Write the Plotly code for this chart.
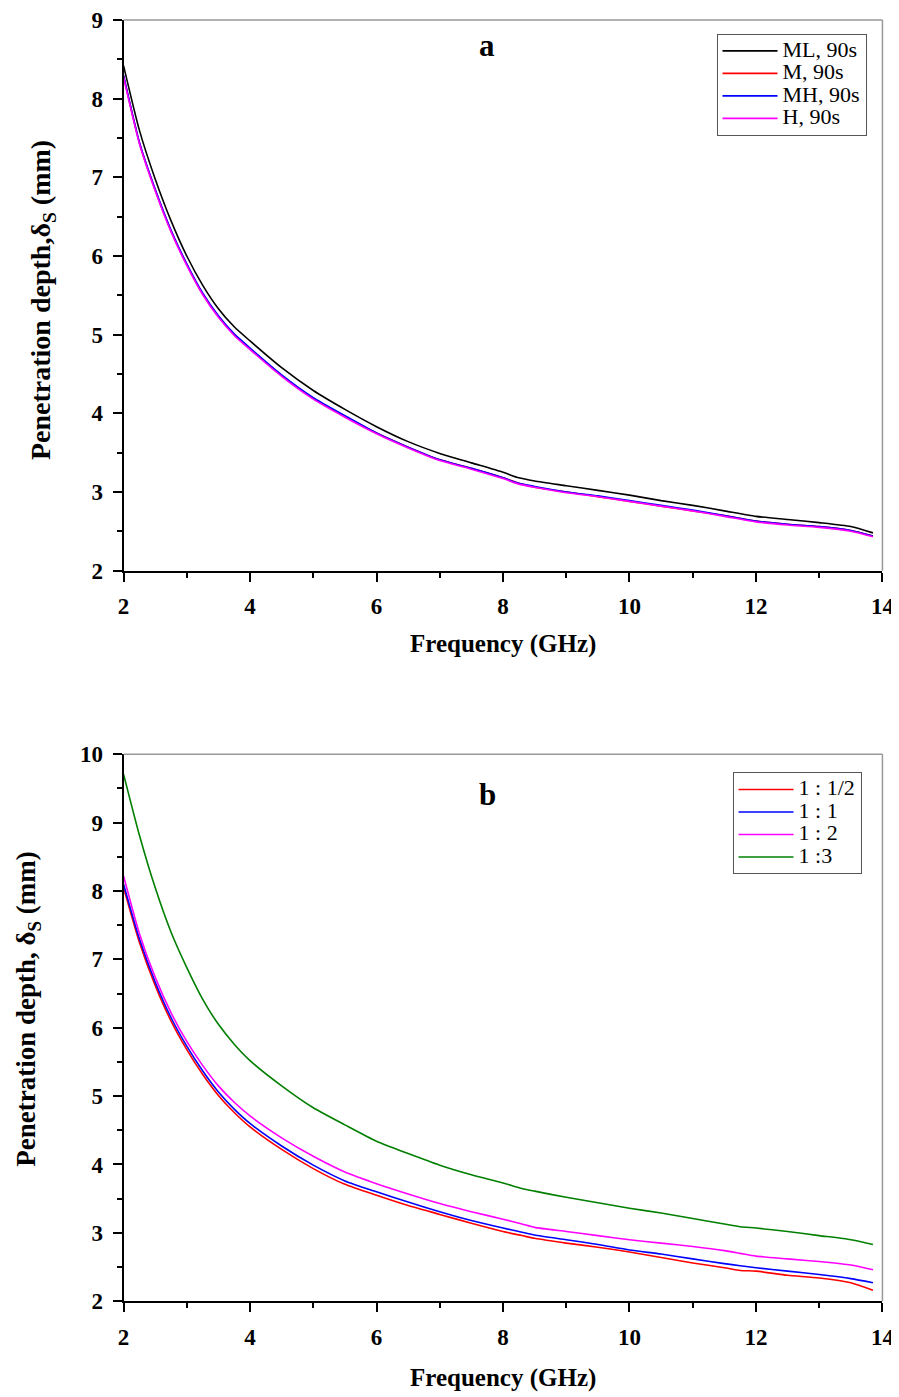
import plotly.graph_objects as go

# ---------------- data (panel a) ----------------
freq_a = [2.0, 2.25, 2.5, 2.75, 3.0, 3.25, 3.5, 3.75, 4.0, 4.5, 5.0, 5.5, 6.0, 6.5, 7.0,
          7.5, 8.0, 8.25, 8.5, 9.0, 9.5, 10.0, 10.5, 11.0, 11.5, 12.0, 12.5, 13.0, 13.5, 13.85]
ml_90 = [8.42, 7.60, 6.98, 6.45, 6.00, 5.63, 5.33, 5.10, 4.92, 4.58, 4.29, 4.05, 3.83, 3.64, 3.49,
         3.37, 3.25, 3.18, 3.14, 3.08, 3.02, 2.96, 2.89, 2.83, 2.76, 2.69, 2.65, 2.61, 2.56, 2.48]
m_90 = [8.29, 7.44, 6.84, 6.32, 5.89, 5.52, 5.23, 5.00, 4.82, 4.48, 4.19, 3.96, 3.75, 3.57, 3.41,
        3.30, 3.18, 3.11, 3.06, 3.00, 2.94, 2.88, 2.82, 2.76, 2.70, 2.63, 2.59, 2.56, 2.51, 2.44]
mh_90 = [8.30, 7.45, 6.85, 6.33, 5.90, 5.53, 5.24, 5.01, 4.83, 4.49, 4.20, 3.97, 3.75, 3.57, 3.41,
         3.30, 3.18, 3.11, 3.07, 3.00, 2.95, 2.89, 2.83, 2.77, 2.70, 2.63, 2.59, 2.56, 2.51, 2.44]
h_90 = [8.27, 7.43, 6.83, 6.31, 5.88, 5.51, 5.22, 4.99, 4.81, 4.47, 4.18, 3.95, 3.74, 3.56, 3.40,
        3.29, 3.17, 3.10, 3.06, 2.99, 2.94, 2.88, 2.82, 2.76, 2.69, 2.62, 2.58, 2.55, 2.50, 2.43]
names_a = ["ML, 90s", "M, 90s", "MH, 90s", "H, 90s"]
colors_a = ["#000000", "#FF0000", "#0000FF", "#FF00FF"]

# ---------------- data (panel b) ----------------
freq_b = [2.0, 2.25, 2.5, 2.75, 3.0, 3.25, 3.5, 3.75, 4.0, 4.5, 5.0, 5.5, 6.0, 6.5, 7.0, 7.5,
          8.0, 8.3, 8.5, 9.0, 9.5, 10.0, 10.5, 11.0, 11.5, 11.75, 12.0, 12.5, 13.0, 13.5, 13.85]
r_1_half = [8.05, 7.25, 6.62, 6.10, 5.68, 5.32, 5.01, 4.76, 4.55, 4.22, 3.94, 3.71, 3.55, 3.40, 3.27, 3.14,
            3.02, 2.96, 2.92, 2.85, 2.79, 2.72, 2.64, 2.56, 2.49, 2.45, 2.44, 2.38, 2.34, 2.27, 2.16]
r_1_1 = [8.10, 7.30, 6.67, 6.15, 5.73, 5.37, 5.06, 4.81, 4.60, 4.27, 3.99, 3.76, 3.60, 3.45, 3.31, 3.18,
         3.07, 3.01, 2.97, 2.90, 2.83, 2.75, 2.69, 2.62, 2.55, 2.52, 2.49, 2.44, 2.39, 2.33, 2.27]
r_1_2 = [8.22, 7.38, 6.74, 6.22, 5.80, 5.45, 5.15, 4.91, 4.71, 4.39, 4.12, 3.89, 3.72, 3.57, 3.43, 3.31,
         3.20, 3.13, 3.08, 3.02, 2.96, 2.90, 2.85, 2.80, 2.74, 2.70, 2.66, 2.62, 2.58, 2.53, 2.46]
r_1_3 = [9.71, 8.82, 8.05, 7.40, 6.88, 6.42, 6.05, 5.76, 5.52, 5.15, 4.83, 4.58, 4.34, 4.16, 3.99, 3.85,
         3.73, 3.65, 3.61, 3.52, 3.44, 3.36, 3.29, 3.21, 3.13, 3.09, 3.07, 3.02, 2.96, 2.90, 2.83]
names_b = ["1 : 1/2", "1 : 1", "1 : 2", "1 :3"]
colors_b = ["#FF0000", "#0000FF", "#FF00FF", "#007F00"]

x_ticks = [2, 4, 6, 8, 10, 12, 14]

FONT = "Liberation Serif, Times New Roman, serif"
W, H = 899, 1397
# observed page placement of the figure in the screenshot: shot = S * fig_px + offset
S = 0.984
OX, OY = 12.0, 19.3


def legend_label(txt):
    # larger glyphs inside a compact legend row
    return '<span style="font-size:22px">' + txt + "</span>"


fig = go.Figure()
for name, col, ys in zip(names_a, colors_a, [ml_90, m_90, mh_90, h_90]):
    fig.add_trace(go.Scatter(x=freq_a, y=ys, mode="lines", name=legend_label(name),
                             line=dict(color=col, width=1.6, shape="spline", smoothing=0.6),
                             xaxis="x", yaxis="y", legend="legend"))
for name, col, ys in zip(names_b, colors_b, [r_1_half, r_1_1, r_1_2, r_1_3]):
    fig.add_trace(go.Scatter(x=freq_b, y=ys, mode="lines", name=legend_label(name),
                             line=dict(color=col, width=1.6, shape="spline", smoothing=0.6),
                             xaxis="x2", yaxis="y2", legend="legend2"))


def px_x(p):
    return min(max(((p - OX) / S) / W, 0.0), 1.0)


def px_y(p):
    return min(max(1 - ((p - OY) / S) / H, 0.0), 1.0)


L, R = 122, 884
top_a, bot_a = 18, 571
top_b, bot_b = 755, 1303

axis_common = dict(
    showline=True, linecolor="black", linewidth=2, ticks="outside", ticklen=9,
    tickwidth=2, tickcolor="black", showgrid=False, zeroline=False,
    tickfont=dict(family=FONT, size=23, color="black", weight="bold"),
    ticklabelstandoff=5, ticklabeloverflow="allow",
)
minor_x = dict(dtick=1, tick0=0, ticks="outside", ticklen=5, tickwidth=2, tickcolor="black")
minor_y = dict(dtick=0.5, tick0=0, ticks="outside", ticklen=5, tickwidth=2, tickcolor="black")

legend_common = dict(xanchor="right", yanchor="top", bgcolor="white",
                     bordercolor="#555555", borderwidth=1,
                     font=dict(family=FONT, size=15, color="black"),
                     itemwidth=55, tracegroupgap=0, traceorder="normal")

fig.update_layout(
    width=W, height=H, paper_bgcolor="white", plot_bgcolor="white",
    margin=dict(l=0, r=0, t=0, b=0),
    xaxis=dict(domain=[px_x(L), px_x(R)], anchor="y", range=[2, 14], tickvals=x_ticks,
               minor=minor_x, **axis_common),
    yaxis=dict(domain=[px_y(bot_a), px_y(top_a)], anchor="x", range=[2, 9], dtick=1,
               minor=minor_y, **axis_common),
    xaxis2=dict(domain=[px_x(L), px_x(R)], anchor="y2", range=[2, 14], tickvals=x_ticks,
                minor=minor_x, **axis_common),
    yaxis2=dict(domain=[px_y(bot_b), px_y(top_b)], anchor="x2", range=[2, 10], dtick=1,
                minor=minor_y, **axis_common),
    legend=dict(x=px_x(868), y=px_y(33), **legend_common),
    legend2=dict(x=px_x(863), y=px_y(773), **legend_common),
    showlegend=True,
)

# grey top/right frame lines (Origin style)
for xr, yr in [("x domain", "y domain"), ("x2 domain", "y2 domain")]:
    fig.add_shape(type="line", xref=xr, yref=yr, x0=0, x1=1, y0=1, y1=1,
                  line=dict(color="#999999", width=1.5))
    fig.add_shape(type="line", xref=xr, yref=yr, x0=1, x1=1, y0=0, y1=1,
                  line=dict(color="#999999", width=1.5))

ann_font = dict(family=FONT, color="black", weight="bold")
annotations = [
    dict(text="a", x=px_x(487), y=px_y(45), font=dict(size=31, **ann_font)),
    dict(text="b", x=px_x(487), y=px_y(795), font=dict(size=31, **ann_font)),
    dict(text="Frequency (GHz)", x=px_x(503), y=px_y(645), font=dict(size=25, **ann_font)),
    dict(text="Frequency (GHz)", x=px_x(503), y=px_y(1380), font=dict(size=25, **ann_font)),
    dict(text="Penetration depth,δ<sub>S</sub> (mm)", x=px_x(40), y=px_y(300), textangle=-90,
         font=dict(size=28, **ann_font)),
    dict(text="Penetration depth, δ<sub>S</sub> (mm)", x=px_x(26), y=px_y(1010), textangle=-90,
         font=dict(size=27, **ann_font)),
]
for a in annotations:
    fig.add_annotation(xref="paper", yref="paper", showarrow=False,
                       xanchor="center", yanchor="middle", **a)

fig.write_html("out.html")
